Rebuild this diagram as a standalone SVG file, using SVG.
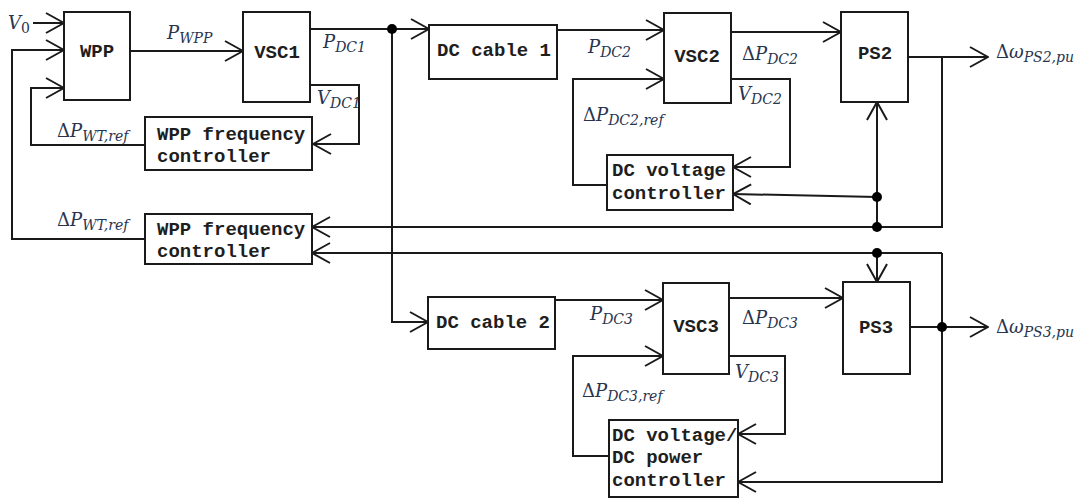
<svg xmlns="http://www.w3.org/2000/svg" width="1084" height="499" viewBox="0 0 1084 499">
<style>
.box{fill:#fff;stroke:#1a1a1a;stroke-width:2}
.bt{font-family:"Liberation Mono","Courier New",monospace;font-weight:bold;font-size:19px;fill:#1e1e1e}
.ln{fill:none;stroke:#1a1a1a;stroke-width:2}
.ar{marker-end:url(#ch)}
.lb{font-family:"DejaVu Serif","Liberation Serif",serif;font-style:italic;font-size:18px;fill:#28344f}
.sb{font-size:14px}
.up{font-style:normal}
.dot{fill:#000}
</style>
<defs>
<marker id="ch" viewBox="0 0 20 22" refX="19" refY="11" markerWidth="20" markerHeight="22" markerUnits="userSpaceOnUse" orient="auto">
<path d="M1,1 L19,11 L1,21" fill="none" stroke="#1a1a1a" stroke-width="2"/>
</marker>
</defs>
<rect width="1084" height="499" fill="#fff"/>

<g id="connectors">
<path class="ln ar" d="M33,23 H64"/>
<path class="ln ar" d="M145,239 H12 V50 H64"/>
<path class="ln ar" d="M145,145 H31 V88 H64"/>
<path class="ln ar" d="M130,51 H243"/>
<path class="ln ar" d="M310,29 H429"/>
<path class="ln ar" d="M392,29 V322 H428"/>
<path class="ln ar" d="M310,85 H359 V144 H313"/>
<path class="ln ar" d="M557,30 H664"/>
<path class="ln ar" d="M731,32 H841"/>
<path class="ln ar" d="M731,79 H790 V167 H733"/>
<path class="ln ar" d="M607,185 H573 V79 H664"/>
<path class="ln ar" d="M908,57 H988"/>
<path class="ln ar" d="M942,57 V227 H312"/>
<path class="ln ar" d="M877,227 V102"/>
<path class="ln ar" d="M877,197 L733,194"/>
<path class="ln ar" d="M942,253 H312"/>
<path class="ln ar" d="M877,253 V282"/>
<path class="ln ar" d="M942,253 V482 H738"/>
<path class="ln ar" d="M910,327 H988"/>
<path class="ln ar" d="M555,300 H663"/>
<path class="ln ar" d="M729,298 H843"/>
<path class="ln ar" d="M729,356 H785 V434 H738"/>
<path class="ln ar" d="M609,456 H573 V356 H663"/>
<circle class="dot" cx="392" cy="29" r="5"/>
<circle class="dot" cx="877" cy="197" r="5"/>
<circle class="dot" cx="877" cy="227" r="5"/>
<circle class="dot" cx="877" cy="253" r="5"/>
<circle class="dot" cx="942" cy="327" r="5"/>
</g>

<g id="labels">
<text class="lb" x="8" y="29">V<tspan class="sb up" dy="4">0</tspan></text>
<text class="lb" x="167" y="39">P<tspan class="sb" dy="4">WPP</tspan></text>
<text class="lb" x="323" y="48">P<tspan class="sb" dy="4">DC1</tspan></text>
<text class="lb" x="317" y="104">V<tspan class="sb" dy="4">DC1</tspan></text>
<text class="lb" x="57" y="137"><tspan class="up">Δ</tspan>P<tspan class="sb" dy="4">WT,ref</tspan></text>
<text class="lb" x="57" y="226"><tspan class="up">Δ</tspan>P<tspan class="sb" dy="4">WT,ref</tspan></text>
<text class="lb" x="588" y="53">P<tspan class="sb" dy="4">DC2</tspan></text>
<text class="lb" x="583" y="121"><tspan class="up">Δ</tspan>P<tspan class="sb" dy="4">DC2,ref</tspan></text>
<text class="lb" x="742" y="60"><tspan class="up">Δ</tspan>P<tspan class="sb" dy="4">DC2</tspan></text>
<text class="lb" x="738" y="100">V<tspan class="sb" dy="4">DC2</tspan></text>
<text class="lb" x="996" y="58"><tspan class="up">Δ</tspan>ω<tspan class="sb" dy="4">PS2,pu</tspan></text>
<text class="lb" x="590" y="320">P<tspan class="sb" dy="4">DC3</tspan></text>
<text class="lb" x="742" y="324"><tspan class="up">Δ</tspan>P<tspan class="sb" dy="4">DC3</tspan></text>
<text class="lb" x="735" y="378">V<tspan class="sb" dy="4">DC3</tspan></text>
<text class="lb" x="582" y="397"><tspan class="up">Δ</tspan>P<tspan class="sb" dy="4">DC3,ref</tspan></text>
<text class="lb" x="996" y="333"><tspan class="up">Δ</tspan>ω<tspan class="sb" dy="4">PS3,pu</tspan></text>
</g>

<g id="WPP"><rect class="box" x="64" y="12" width="66" height="88"/><text class="bt" x="97" y="57" text-anchor="middle">WPP</text></g>
<g id="VSC1"><rect class="box" x="243" y="12" width="67" height="90"/><text class="bt" x="277" y="58" text-anchor="middle">VSC1</text></g>
<g id="WPPctrl1"><rect class="box" x="145" y="117" width="167" height="53"/><text class="bt" x="157" y="140">WPP frequency</text><text class="bt" x="157" y="162">controller</text></g>
<g id="WPPctrl2"><rect class="box" x="145" y="214" width="167" height="50"/><text class="bt" x="157" y="235">WPP frequency</text><text class="bt" x="157" y="257">controller</text></g>
<g id="DCcable1"><rect class="box" x="429" y="25" width="128" height="54"/><text class="bt" x="437" y="56">DC cable 1</text></g>
<g id="VSC2"><rect class="box" x="664" y="13" width="67" height="90"/><text class="bt" x="697" y="62" text-anchor="middle">VSC2</text></g>
<g id="DCVctrl"><rect class="box" x="607" y="155" width="126" height="55"/><text class="bt" x="612" y="176">DC voltage</text><text class="bt" x="612" y="199">controller</text></g>
<g id="PS2"><rect class="box" x="841" y="12" width="67" height="90"/><text class="bt" x="875" y="59" text-anchor="middle">PS2</text></g>
<g id="DCcable2"><rect class="box" x="428" y="297" width="127" height="52"/><text class="bt" x="436" y="328">DC cable 2</text></g>
<g id="VSC3"><rect class="box" x="663" y="283" width="66" height="91"/><text class="bt" x="696" y="332" text-anchor="middle">VSC3</text></g>
<g id="DCVPctrl"><rect class="box" x="609" y="420" width="129" height="77"/><text class="bt" x="612" y="441">DC voltage/</text><text class="bt" x="612" y="463">DC power</text><text class="bt" x="612" y="486">controller</text></g>
<g id="PS3"><rect class="box" x="843" y="282" width="67" height="92"/><text class="bt" x="876" y="333" text-anchor="middle">PS3</text></g>
</svg>
